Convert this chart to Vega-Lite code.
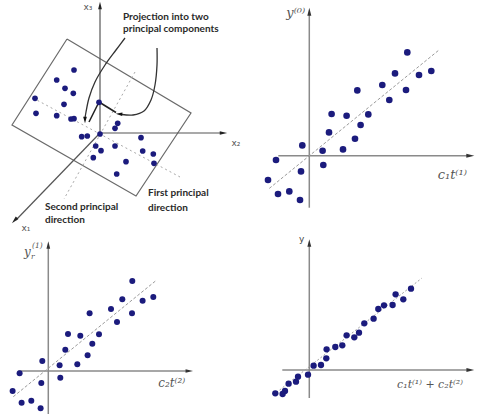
{
  "$schema": "https://vega.github.io/schema/vega-lite/v6.json",
  "padding": 0,
  "spacing": 0,
  "bounds": "flush",
  "columns": 2,
  "background": "white",
  "config": {"view": {"stroke": null}, "concat": {"spacing": 0}},
  "datasets": {
    "p1_axes": [{"x": 0, "y": 0, "x2": 0, "y2": 125}, {"x": 0, "y": 0, "x2": 122, "y2": 0}, {"x": 0, "y": 0, "x2": -84, "y2": -87}],
    "p1_arrows": [{"x": 0, "y": 127.5, "a": 0}, {"x": 123.5, "y": 0, "a": 90}, {"x": -85.5, "y": -87.5, "a": 224}],
    "p1_plane": [{"i": 0, "x": -33, "y": 94}, {"i": 1, "x": 91, "y": 20}, {"i": 2, "x": 36, "y": -63}, {"i": 3, "x": -88, "y": 8}, {"i": 4, "x": -33, "y": 94}],
    "p1_principal": [{"x": -67, "y": 35, "x2": 80, "y2": -44}, {"x": 35, "y": 61, "x2": -36, "y2": -66}],
    "p1_proj": [{"x": -1, "y": 31, "x2": -11, "y2": 11}, {"x": -1, "y": 31, "x2": 16, "y2": 20.5}],
    "p1_curves": [
      {"c": "a", "i": 0, "x": 25, "y": 95}, {"c": "a", "i": 1, "x": 16, "y": 83}, {"c": "a", "i": 2, "x": 5, "y": 68}, {"c": "a", "i": 3, "x": -5, "y": 51}, {"c": "a", "i": 4, "x": -11, "y": 35}, {"c": "a", "i": 5, "x": -14, "y": 21}, {"c": "a", "i": 6, "x": -15, "y": 15},
      {"c": "b", "i": 0, "x": 57, "y": 85}, {"c": "b", "i": 1, "x": 57, "y": 68}, {"c": "b", "i": 2, "x": 55, "y": 48}, {"c": "b", "i": 3, "x": 51, "y": 33}, {"c": "b", "i": 4, "x": 44, "y": 22}, {"c": "b", "i": 5, "x": 33, "y": 18}, {"c": "b", "i": 6, "x": 22, "y": 18.5}
    ],
    "p1_heads": [{"x": -15, "y": 13, "a": 180}, {"x": 19, "y": 19, "a": 275}],
    "p1_dots": [
      {"x": -26, "y": 63}, {"x": -43.3, "y": 53}, {"x": -35, "y": 44.7}, {"x": -26.7, "y": 39.7}, {"x": -65, "y": 34.7}, {"x": -36, "y": 28.7}, {"x": -64, "y": 19.7}, {"x": -43.3, "y": 17.3}, {"x": -29, "y": 14}, {"x": -26, "y": 14.3}, {"x": -1, "y": 30.7}, {"x": 17.7, "y": 9.7}, {"x": 15, "y": 4.7}, {"x": -18.3, "y": -3.7}, {"x": -12.7, "y": -3}, {"x": 0, "y": -1}, {"x": 41, "y": -4.7}, {"x": -4.3, "y": -13}, {"x": 15, "y": -13}, {"x": 1, "y": -17.7}, {"x": -6.7, "y": -24.7}, {"x": 42.7, "y": -18}, {"x": 53.3, "y": -21}, {"x": 54, "y": -30.3}, {"x": 26, "y": -28.7}, {"x": 16.7, "y": -41}
    ],
    "p1_notes": [
      {"x": 23, "y": 116, "t": "Projection into two"}, {"x": 23, "y": 104, "t": "principal components"},
      {"x": 48, "y": -60, "t": "First principal"}, {"x": 48, "y": -75, "t": "direction"},
      {"x": -55, "y": -74, "t": "Second principal"}, {"x": -55, "y": -87, "t": "direction"}
    ],
    "p1_axlabels": [{"x": -12, "y": 126, "t": "x₃"}, {"x": 136, "y": -10, "t": "x₂"}, {"x": -74, "y": -95, "t": "x₁"}],

    "p2_axes": [{"x": 0, "y": -52, "x2": 0, "y2": 143}, {"x": -31, "y": 0, "x2": 160, "y2": 0}],
    "p2_arrows": [{"x": 0, "y": 144, "a": 0}, {"x": 161, "y": 0, "a": 90}],
    "p2_trend": [{"x": -40, "y": -32.7, "x2": 129.7, "y2": 105.7}],
    "p2_dots": [
      {"x": 98, "y": 103.3}, {"x": 85.7, "y": 82.3}, {"x": 109.7, "y": 80.7}, {"x": 122, "y": 84.7}, {"x": 73, "y": 70.7}, {"x": 96.7, "y": 65.7}, {"x": 80, "y": 55.7}, {"x": 48, "y": 65.3}, {"x": 22.3, "y": 41.7}, {"x": 37.3, "y": 40}, {"x": 59, "y": 41.3}, {"x": 51.3, "y": 30.7}, {"x": 19.7, "y": 23.3}, {"x": 45.7, "y": 17}, {"x": 33.7, "y": 6.3}, {"x": 13.3, "y": 5}, {"x": -7, "y": 10.3}, {"x": -33.3, "y": -4.3}, {"x": 14, "y": -9.3}, {"x": -8.3, "y": -15.7}, {"x": -41.3, "y": -24.3}, {"x": -31.3, "y": -38.3}, {"x": -20, "y": -35.7}, {"x": -9.3, "y": -44.3}
    ],
    "p2_labels": [{"x": -13.5, "y": 143, "t": "y⁽⁰⁾"}, {"x": 143, "y": -19, "t": "c₁t⁽¹⁾"}],

    "p3_axes": [{"x": 0, "y": -43, "x2": 0, "y2": 125}, {"x": -30, "y": 0, "x2": 140, "y2": 0}],
    "p3_arrows": [{"x": 0, "y": 126, "a": 0}, {"x": 141, "y": 0, "a": 90}],
    "p3_trend": [{"x": -35, "y": -25.7, "x2": 108.4, "y2": 91}],
    "p3_dots": [
      {"x": 84, "y": 90}, {"x": 74, "y": 71.7}, {"x": 94.3, "y": 70.3}, {"x": 105, "y": 74}, {"x": 62.7, "y": 62}, {"x": 83.7, "y": 57.7}, {"x": 68.7, "y": 49}, {"x": 41.3, "y": 57.7}, {"x": 19.7, "y": 37}, {"x": 32, "y": 35.3}, {"x": 50.7, "y": 36.7}, {"x": 44, "y": 27.3}, {"x": 17, "y": 21.3}, {"x": 39.3, "y": 15.7}, {"x": 29, "y": 6.7}, {"x": 11.3, "y": 5.7}, {"x": -6, "y": 10}, {"x": -28.7, "y": -2.3}, {"x": 12, "y": -6.7}, {"x": -7, "y": -12}, {"x": -35.7, "y": -20}, {"x": -26.7, "y": -31.7}, {"x": -17, "y": -29.7}, {"x": -7.7, "y": -37.3}
    ],
    "p3_labels": [{"x": 123.4, "y": -12.3, "t": "c₂t⁽²⁾"}],
    "p3_ylabel": [{"x": -21, "y": 119, "t": "y", "s": "main"}, {"x": -11, "y": 125, "t": "(1)", "s": "sup"}, {"x": -15.5, "y": 114.5, "t": "r", "s": "sub"}],

    "p4_axes": [{"x": 0, "y": -28, "x2": 0, "y2": 125}, {"x": -27, "y": 0, "x2": 160, "y2": 0}],
    "p4_arrows": [{"x": 0, "y": 127, "a": 0}, {"x": 161, "y": 0, "a": 90}],
    "p4_trend": [{"x": -36, "y": -25, "x2": 112.3, "y2": 91.7}],
    "p4_dots": [
      {"x": 101.7, "y": 81.3}, {"x": 94, "y": 70.7}, {"x": 86.3, "y": 75.7}, {"x": 83.3, "y": 65}, {"x": 74.7, "y": 64.7}, {"x": 69, "y": 61}, {"x": 64.3, "y": 51.3}, {"x": 55, "y": 46.7}, {"x": 49.7, "y": 37.3}, {"x": 45, "y": 32.7}, {"x": 37.3, "y": 34.7}, {"x": 33, "y": 24.7}, {"x": 26, "y": 23}, {"x": 17.3, "y": 20.7}, {"x": 17, "y": 11.7}, {"x": 11.7, "y": 5}, {"x": 4.3, "y": 4.3}, {"x": -1.3, "y": -4.7}, {"x": -11.3, "y": -6.7}, {"x": -13.3, "y": -11.7}, {"x": -20.7, "y": -13.7}, {"x": -24.3, "y": -21}, {"x": -26.7, "y": -24}, {"x": -34, "y": -23.3}
    ],
    "p4_labels": [{"x": 120.7, "y": -15, "t": "c₁t⁽¹⁾ + c₂t⁽²⁾"}],
    "p4_ylabel": [{"x": -7.6, "y": 131, "t": "y"}]
  },
  "concat": [
    {
      "width": 240,
      "height": 210,
      "encoding": {
        "x": {"field": "x", "type": "quantitative", "axis": null, "scale": {"domain": [-100, 140], "nice": false, "zero": false}},
        "y": {"field": "y", "type": "quantitative", "axis": null, "scale": {"domain": [-77, 133], "nice": false, "zero": false}}
      },
      "layer": [
        {"data": {"name": "p1_plane"}, "mark": {"type": "line", "stroke": "#6a6a6a", "strokeWidth": 1.2}, "encoding": {"order": {"field": "i", "type": "quantitative"}}},
        {"data": {"name": "p1_principal"}, "mark": {"type": "rule", "stroke": "#a8a8a8", "strokeWidth": 1, "strokeDash": [2, 3]}, "encoding": {"x2": {"field": "x2"}, "y2": {"field": "y2"}}},
        {"data": {"name": "p1_axes"}, "mark": {"type": "rule", "stroke": "#555555", "strokeWidth": 1.2}, "encoding": {"x2": {"field": "x2"}, "y2": {"field": "y2"}}},
        {"data": {"name": "p1_arrows"}, "mark": {"type": "point", "filled": true, "opacity": 1, "shape": "M0,-1L0.5,1L-0.5,1Z", "color": "#222222", "size": 56}, "encoding": {"angle": {"field": "a", "type": "quantitative", "scale": null}}},
        {"data": {"name": "p1_curves"}, "mark": {"type": "line", "stroke": "#333333", "strokeWidth": 1.3, "interpolate": "catmull-rom"}, "encoding": {"detail": {"field": "c"}, "order": {"field": "i", "type": "quantitative"}}},
        {"data": {"name": "p1_proj"}, "mark": {"type": "rule", "stroke": "#222222", "strokeWidth": 1.6}, "encoding": {"x2": {"field": "x2"}, "y2": {"field": "y2"}}},
        {"data": {"name": "p1_heads"}, "mark": {"type": "point", "filled": true, "opacity": 1, "shape": "M0,-1L0.55,1L-0.55,1Z", "color": "#111111", "size": 44}, "encoding": {"angle": {"field": "a", "type": "quantitative", "scale": null}}},
        {"data": {"name": "p1_dots"}, "mark": {"type": "point", "filled": true, "opacity": 1, "color": "#1b1b7d", "size": 32}},
        {"data": {"name": "p1_notes"}, "mark": {"type": "text", "font": "Lato", "fontWeight": "bold", "fontSize": 10, "align": "left", "baseline": "middle", "color": "#2a2a2a"}, "encoding": {"text": {"field": "t"}}},
        {"data": {"name": "p1_axlabels"}, "mark": {"type": "text", "font": "DejaVu Sans", "fontSize": 9, "align": "center", "baseline": "middle", "color": "#555555"}, "encoding": {"text": {"field": "t"}}}
      ]
    },
    {
      "width": 238,
      "height": 210,
      "encoding": {
        "x": {"field": "x", "type": "quantitative", "axis": null, "scale": {"domain": [-69.3, 168.7], "nice": false, "zero": false}},
        "y": {"field": "y", "type": "quantitative", "axis": null, "scale": {"domain": [-54.3, 155.7], "nice": false, "zero": false}}
      },
      "layer": [
        {"data": {"name": "p2_axes"}, "mark": {"type": "rule", "stroke": "#8a8a8a", "strokeWidth": 1.5}, "encoding": {"x2": {"field": "x2"}, "y2": {"field": "y2"}}},
        {"data": {"name": "p2_arrows"}, "mark": {"type": "point", "filled": true, "opacity": 1, "shape": "M0,-1L0.5,1L-0.5,1Z", "color": "#333333", "size": 64}, "encoding": {"angle": {"field": "a", "type": "quantitative", "scale": null}}},
        {"data": {"name": "p2_trend"}, "mark": {"type": "rule", "stroke": "#9a9a9a", "strokeWidth": 1, "strokeDash": [3, 2]}, "encoding": {"x2": {"field": "x2"}, "y2": {"field": "y2"}}},
        {"data": {"name": "p2_dots"}, "mark": {"type": "point", "filled": true, "opacity": 1, "color": "#1b1b7d", "size": 44}},
        {"data": {"name": "p2_labels"}, "mark": {"type": "text", "font": "DejaVu Serif", "fontStyle": "italic", "fontSize": 13, "align": "center", "baseline": "middle", "color": "#555555"}, "encoding": {"text": {"field": "t"}}}
      ]
    },
    {
      "width": 240,
      "height": 205,
      "encoding": {
        "x": {"field": "x", "type": "quantitative", "axis": null, "scale": {"domain": [-48.3, 191.7], "nice": false, "zero": false}},
        "y": {"field": "y", "type": "quantitative", "axis": null, "scale": {"domain": [-44, 161], "nice": false, "zero": false}}
      },
      "layer": [
        {"data": {"name": "p3_axes"}, "mark": {"type": "rule", "stroke": "#8a8a8a", "strokeWidth": 1.5}, "encoding": {"x2": {"field": "x2"}, "y2": {"field": "y2"}}},
        {"data": {"name": "p3_arrows"}, "mark": {"type": "point", "filled": true, "opacity": 1, "shape": "M0,-1L0.5,1L-0.5,1Z", "color": "#333333", "size": 56}, "encoding": {"angle": {"field": "a", "type": "quantitative", "scale": null}}},
        {"data": {"name": "p3_trend"}, "mark": {"type": "rule", "stroke": "#9a9a9a", "strokeWidth": 1, "strokeDash": [3, 2]}, "encoding": {"x2": {"field": "x2"}, "y2": {"field": "y2"}}},
        {"data": {"name": "p3_dots"}, "mark": {"type": "point", "filled": true, "opacity": 1, "color": "#1b1b7d", "size": 36}},
        {"data": {"name": "p3_labels"}, "mark": {"type": "text", "font": "DejaVu Serif", "fontStyle": "italic", "fontSize": 12, "align": "center", "baseline": "middle", "color": "#555555"}, "encoding": {"text": {"field": "t"}}},
        {"data": {"name": "p3_ylabel"}, "transform": [{"filter": "datum.s === 'main'"}], "mark": {"type": "text", "font": "DejaVu Serif", "fontStyle": "italic", "fontSize": 12, "align": "center", "baseline": "middle", "color": "#555555"}, "encoding": {"text": {"field": "t"}}},
        {"data": {"name": "p3_ylabel"}, "transform": [{"filter": "datum.s !== 'main'"}], "mark": {"type": "text", "font": "DejaVu Serif", "fontStyle": "italic", "fontSize": 7.5, "align": "center", "baseline": "middle", "color": "#555555"}, "encoding": {"text": {"field": "t"}}}
      ]
    },
    {
      "width": 238,
      "height": 205,
      "encoding": {
        "x": {"field": "x", "type": "quantitative", "axis": null, "scale": {"domain": [-69.3, 168.7], "nice": false, "zero": false}},
        "y": {"field": "y", "type": "quantitative", "axis": null, "scale": {"domain": [-45, 160], "nice": false, "zero": false}}
      },
      "layer": [
        {"data": {"name": "p4_axes"}, "mark": {"type": "rule", "stroke": "#8a8a8a", "strokeWidth": 1.5}, "encoding": {"x2": {"field": "x2"}, "y2": {"field": "y2"}}},
        {"data": {"name": "p4_arrows"}, "mark": {"type": "point", "filled": true, "opacity": 1, "shape": "M0,-1L0.5,1L-0.5,1Z", "color": "#333333", "size": 60}, "encoding": {"angle": {"field": "a", "type": "quantitative", "scale": null}}},
        {"data": {"name": "p4_trend"}, "mark": {"type": "rule", "stroke": "#a0a0a0", "strokeWidth": 1, "strokeDash": [2, 2]}, "encoding": {"x2": {"field": "x2"}, "y2": {"field": "y2"}}},
        {"data": {"name": "p4_dots"}, "mark": {"type": "point", "filled": true, "opacity": 1, "color": "#1b1b7d", "size": 40}},
        {"data": {"name": "p4_labels"}, "mark": {"type": "text", "font": "DejaVu Serif", "fontStyle": "italic", "fontSize": 11, "align": "center", "baseline": "middle", "color": "#555555"}, "encoding": {"text": {"field": "t"}}},
        {"data": {"name": "p4_ylabel"}, "transform": [], "mark": {"type": "text", "font": "DejaVu Sans", "fontSize": 9, "align": "center", "baseline": "middle", "color": "#444444"}, "encoding": {"text": {"field": "t"}}}
      ]
    }
  ]
}
